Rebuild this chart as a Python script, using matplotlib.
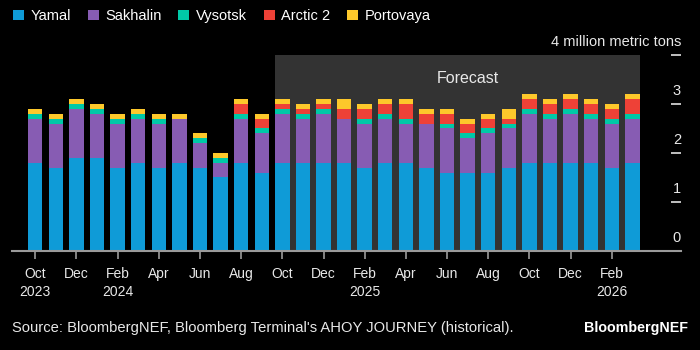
import matplotlib.pyplot as plt
import numpy as np
from matplotlib.patches import Patch, Rectangle

plt.rcParams['font.family'] = ['Liberation Sans', 'DejaVu Sans']

# monthly exports, million metric tons (Oct 2023 - Mar 2026)
months = ['Oct 2023', 'Nov 2023', 'Dec 2023', 'Jan 2024', 'Feb 2024', 'Mar 2024',
          'Apr 2024', 'May 2024', 'Jun 2024', 'Jul 2024', 'Aug 2024', 'Sep 2024',
          'Oct 2024', 'Nov 2024', 'Dec 2024', 'Jan 2025', 'Feb 2025', 'Mar 2025',
          'Apr 2025', 'May 2025', 'Jun 2025', 'Jul 2025', 'Aug 2025', 'Sep 2025',
          'Oct 2025', 'Nov 2025', 'Dec 2025', 'Jan 2026', 'Feb 2026', 'Mar 2026']
yamal = [1.8, 1.7, 1.9, 1.9, 1.7, 1.8, 1.7, 1.8, 1.7, 1.5, 1.8, 1.6,
         1.8, 1.8, 1.8, 1.8, 1.7, 1.8, 1.8, 1.7, 1.6, 1.6, 1.6, 1.7,
         1.8, 1.8, 1.8, 1.8, 1.7, 1.8]
sakhalin = [0.9, 0.9, 1.0, 0.9, 0.9, 0.9, 0.9, 0.9, 0.5, 0.3, 0.9, 0.8,
            1.0, 0.9, 1.0, 0.9, 0.9, 0.9, 0.8, 0.9, 0.9, 0.7, 0.8, 0.8,
            1.0, 0.9, 1.0, 0.9, 0.9, 0.9]
vysotsk = [0.1, 0.1, 0.1, 0.1, 0.1, 0.1, 0.1, 0.0, 0.1, 0.1, 0.1, 0.1,
           0.1, 0.1, 0.1, 0.0, 0.1, 0.1, 0.1, 0.0, 0.1, 0.1, 0.1, 0.1,
           0.1, 0.1, 0.1, 0.1, 0.1, 0.1]
arctic2 = [0.0, 0.0, 0.0, 0.0, 0.0, 0.0, 0.0, 0.0, 0.0, 0.0, 0.2, 0.2,
           0.1, 0.1, 0.1, 0.2, 0.2, 0.2, 0.3, 0.2, 0.2, 0.2, 0.2, 0.1,
           0.2, 0.2, 0.2, 0.2, 0.2, 0.3]
portovaya = [0.1, 0.1, 0.1, 0.1, 0.1, 0.1, 0.1, 0.1, 0.1, 0.1, 0.1, 0.1,
             0.1, 0.1, 0.1, 0.2, 0.1, 0.1, 0.1, 0.1, 0.1, 0.1, 0.1, 0.2,
             0.1, 0.1, 0.1, 0.1, 0.1, 0.1]
forecast_start = 'Oct 2024'

series = [('Yamal', yamal, '#0f9bd7'),
          ('Sakhalin', sakhalin, '#875cb3'),
          ('Vysotsk', vysotsk, '#00c9a7'),
          ('Arctic 2', arctic2, '#ee4137'),
          ('Portovaya', portovaya, '#fdc82b')]

txt = '#e8e8e8'
fig = plt.figure(figsize=(7, 3.5), dpi=100, facecolor='black')
ax = fig.add_axes([12/700, 99/350, 669/700, 196/350], facecolor='black')

x = np.arange(len(months))
w = 0.7
f0 = months.index(forecast_start)
ax.add_patch(Rectangle((f0 - w/2, 0), len(months) - 1 - f0 + w, 4,
                       facecolor='#333333', edgecolor='none', zorder=0))
ax.text(21.0, 3.53, 'Forecast', color=txt, fontsize=11.5, ha='center', va='center')

bottom = np.zeros(len(months))
for name, vals, col in series:
    ax.bar(x, vals, w, bottom=bottom, color=col, zorder=2)
    bottom += np.array(vals)

ax.set_xlim(-1.127, 31.36)
ax.set_ylim(0, 4)

# x axis
ticks = x[::2]
labels = []
for i in ticks:
    m, yr = months[i].split()
    if i == 0 or m == 'Feb':
        labels.append(m + '\n' + yr)
    else:
        labels.append(m)
ax.set_xticks(ticks)
ax.set_xticklabels(labels, color=txt, fontsize=10)
for lab in ax.get_xticklabels():
    lab.set_linespacing(1.4)
ax.tick_params(axis='x', length=6, width=1.2, color='#9a9a9a', pad=5.5)

# y axis: short marks on the right, labels sitting above them
ax.set_yticks([1, 2, 3, 4])
ax.yaxis.set_ticks_position('right')
ax.tick_params(axis='y', direction='in', length=7.5, width=1.3, color='#d0d0d0',
               labelright=False)
for v in range(5):
    s = '4 million metric tons' if v == 4 else str(v)
    ax.text(1.0, v + 0.18, s, transform=ax.get_yaxis_transform(), ha='right',
            va='baseline', color=txt, fontsize=10.5)

for sp in ['top', 'left', 'right']:
    ax.spines[sp].set_visible(False)
ax.spines['bottom'].set_color('#9a9a9a')
ax.spines['bottom'].set_linewidth(1.5)
ax.spines['bottom'].set_zorder(3)

handles = [Patch(facecolor=c, edgecolor='none') for _, _, c in series]
fig.legend(handles, [n for n, _, _ in series], loc='upper left',
           bbox_to_anchor=(13/700, 1 - 9/350), ncol=5, frameon=False,
           fontsize=10.5, labelcolor='white', handlelength=0.75, handleheight=0.75,
           handletextpad=0.45, columnspacing=1.15, borderpad=0, borderaxespad=0)

fig.text(12/700, 1 - 328/350, "Source: BloombergNEF, Bloomberg Terminal's AHOY JOURNEY (historical).",
         color=txt, fontsize=10.6, va='center', ha='left')
fig.text(688/700, 1 - 328/350, 'BloombergNEF', color='white', fontsize=10.3,
         fontweight='bold', va='center', ha='right')

fig.savefig('out.png', dpi=100, facecolor='black')
